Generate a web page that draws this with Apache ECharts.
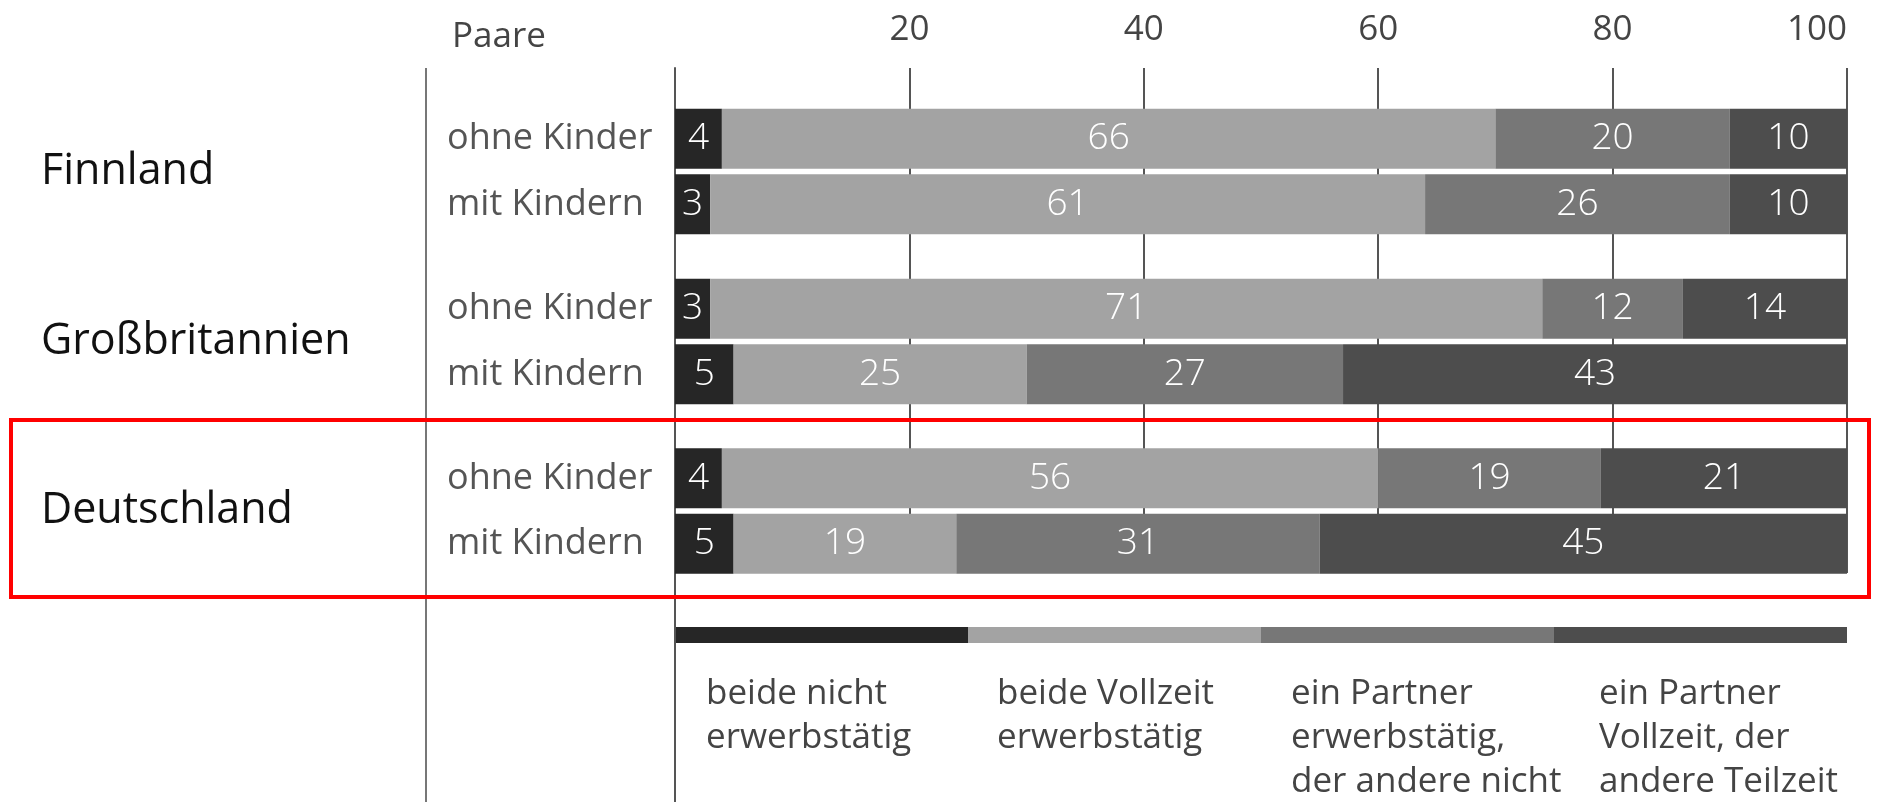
<!DOCTYPE html>
<html>
<head>
<meta charset="utf-8">
<script src="https://cdn.jsdelivr.net/npm/echarts@6/dist/echarts.min.js"></script>
<style>
  html, body { margin: 0; padding: 0; background: #ffffff; }
  #chart { width: 1885px; height: 802px; }
</style>
</head>
<body>
<div id="chart"></div>
<script>
// Erwerbsmuster von Paaren, in Prozent
const countries = ['Finnland', 'Großbritannien', 'Deutschland'];
const households = ['ohne Kinder', 'mit Kindern'];
const segmentNames = [
  'beide nicht\nerwerbstätig',
  'beide Vollzeit\nerwerbstätig',
  'ein Partner\nerwerbstätig,\nder andere nicht',
  'ein Partner\nVollzeit, der\nandere Teilzeit'
];
// one pair [ohne Kinder, mit Kindern] per country
const beideNicht     = [[4, 3],   [3, 5],   [4, 5]];
const beideVollzeit  = [[66, 61], [71, 25], [56, 19]];
const einerNicht     = [[20, 26], [12, 27], [19, 31]];
const vollTeilzeit   = [[10, 10], [14, 43], [21, 45]];
const segmentValues = [beideNicht, beideVollzeit, einerNicht, vollTeilzeit];
const axisMin = 0, axisMax = 100, axisStep = 20;

const colors = ['#262626', '#a3a3a3', '#777777', '#4d4d4d'];
const FONT = "'Open Sans', 'Noto Sans', sans-serif";

// layout
const PLOT_LEFT = 675, PLOT_RIGHT = 1847, CHART_W = 1885, CHART_H = 802;
const PLOT_W = PLOT_RIGHT - PLOT_LEFT;
const AXIS_TOP = 68, SPLIT_BOTTOM = 573;
const GROUP_TOPS = [106, 276, 445.5];
const GROUP_H = 131;
const BAR_W = 60;

const grids = [
  { left: PLOT_LEFT, width: PLOT_W, top: AXIS_TOP, height: SPLIT_BOTTOM - AXIS_TOP, outerBoundsMode: 'none' },
  { left: PLOT_LEFT, width: PLOT_W, top: AXIS_TOP, height: CHART_H - AXIS_TOP, outerBoundsMode: 'none' }
];
const xAxes = [
  {
    gridIndex: 0, type: 'value', position: 'top',
    min: axisMin, max: axisMax, interval: axisStep,
    axisLine: { show: false }, axisTick: { show: false },
    axisLabel: { showMinLabel: false, alignMaxLabel: 'right', fontFamily: FONT, fontSize: 35, color: '#444', margin: 20 },
    splitLine: { show: true, lineStyle: { color: '#555', width: 2 } }
  },
  { gridIndex: 1, type: 'value', min: axisMin, max: axisMax, show: false }
];
const yAxes = [
  { gridIndex: 0, type: 'category', data: [''], show: false },
  {
    gridIndex: 1, type: 'value', min: 0, max: 1, position: 'left',
    axisLine: { show: true, lineStyle: { color: '#555', width: 2 } },
    axisTick: { show: false }, axisLabel: { show: false }, splitLine: { show: false }
  }
];
const series = [];

countries.forEach((country, g) => {
  const gi = grids.length;
  grids.push({ left: PLOT_LEFT, width: PLOT_W, top: GROUP_TOPS[g], height: GROUP_H, outerBoundsMode: 'none' });
  const xi = xAxes.length;
  xAxes.push({ gridIndex: gi, type: 'value', min: axisMin, max: axisMax, show: false });
  const yi = yAxes.length;
  yAxes.push({
    gridIndex: gi, type: 'category', inverse: true, data: households, position: 'left',
    axisLine: { show: false }, axisTick: { show: false }, splitLine: { show: false },
    axisLabel: { align: 'left', margin: PLOT_LEFT - 447, fontFamily: FONT, fontSize: 36, color: '#555' }
  });
  yAxes.push({
    gridIndex: gi, type: 'category', data: [country], position: 'left', offset: 0,
    axisLine: { show: false }, axisTick: { show: false }, splitLine: { show: false },
    axisLabel: { align: 'left', margin: PLOT_LEFT - 41, fontFamily: FONT, fontSize: 43, color: '#111' }
  });
  segmentValues.forEach((vals, s) => {
    series.push({
      type: 'bar',
      name: segmentNames[s],
      xAxisIndex: xi, yAxisIndex: yi,
      stack: 'land' + g,
      barWidth: BAR_W,
      data: vals[g],
      itemStyle: { color: colors[s] },
      label: { show: true, position: 'inside', color: '#fff', fontFamily: FONT, fontSize: 37, fontWeight: 300 },
      emphasis: { disabled: true },
      silent: true
    });
  });
});

// legend strip and descriptions beneath the plot
const LEG_TOP = 627, LEG_H = 16, LEG_TEXT_TOP = 672;
const segW = PLOT_W / segmentNames.length;
const textOffsets = [31, 29, 30, 45];
const graphics = [
  { type: 'line', shape: { x1: 426, y1: AXIS_TOP, x2: 426, y2: CHART_H }, style: { stroke: '#777', lineWidth: 2 } },
  { type: 'text', left: 452, top: 20, style: { text: 'Paare', font: '35px ' + FONT, fill: '#444' } },
  { type: 'rect', shape: { x: 11, y: 420, width: 1858, height: 177 }, style: { fill: 'none', stroke: '#ff0000', lineWidth: 4 }, z: 10 }
];
segmentNames.forEach((name, s) => {
  graphics.push({
    type: 'rect',
    shape: { x: PLOT_LEFT + s * segW, y: LEG_TOP, width: segW, height: LEG_H },
    style: { fill: colors[s] }
  });
  graphics.push({
    type: 'text',
    x: PLOT_LEFT + s * segW + textOffsets[s], y: LEG_TEXT_TOP,
    style: { text: name, font: '35px ' + FONT, fill: '#444', lineHeight: 44, verticalAlign: 'top' }
  });
});

const chart = echarts.init(document.getElementById('chart'), null, { renderer: 'canvas' });
chart.setOption({
  animation: false,
  backgroundColor: '#ffffff',
  grid: grids,
  xAxis: xAxes,
  yAxis: yAxes,
  series: series,
  graphic: graphics
});
</script>
</body>
</html>
